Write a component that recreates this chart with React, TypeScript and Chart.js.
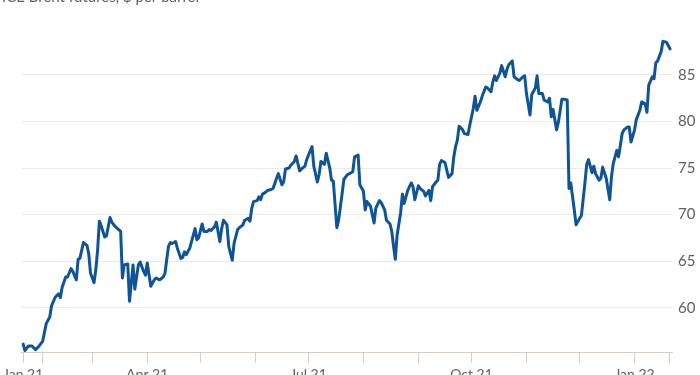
import React, { useEffect, useRef } from "react";
import { Chart, registerables } from "chart.js";

Chart.register(...registerables);

// Days counted from 21 Jan 2021 (start of the one-year window)
const days: number[] = [
  0, 1, 3, 5, 7, 9, 11, 13, 15, 16, 18, 20, 21, 22, 24, 25, 27, 28, 30, 31, 32, 34, 36, 37, 38, 40, 41, 42, 43, 44,
  46, 47, 49, 50, 52, 55, 56, 57, 59, 60, 62, 63, 65, 66, 68, 69, 70, 72, 74, 75, 77, 79, 80, 82, 83, 84, 86, 87, 89, 90,
  91, 92, 94, 95, 97, 98, 99, 101, 102, 104, 105, 106, 108, 109, 111, 112, 113, 115, 116, 118, 119, 121, 122, 124, 125, 127, 128, 129, 130, 132,
  133, 134, 135, 136, 138, 140, 141, 143, 144, 146, 147, 148, 150, 151, 153, 154, 156, 157, 159, 160, 161, 163, 164, 166, 167, 168, 170, 171, 173, 174,
  175, 177, 178, 180, 181, 183, 185, 186, 187, 189, 190, 192, 193, 194, 196, 198, 199, 201, 202, 204, 205, 207, 208, 209, 210, 211, 213, 214, 215, 217,
  219, 220, 221, 223, 224, 226, 227, 229, 230, 231, 233, 234, 235, 236, 238, 239, 240, 242, 243, 244, 245, 246, 248, 249, 251, 252, 254, 255, 256, 258,
  259, 261, 262, 264, 265, 266, 267, 269, 270, 272, 273, 274, 276, 277, 279, 280, 282, 283, 284, 286, 287, 289, 290, 291, 293, 294, 296, 297, 298, 299,
  301, 302, 304, 305, 307, 308, 309, 311, 312, 314, 315, 317, 318, 319, 321, 322, 323, 325, 326, 327, 329, 331, 332, 333, 335, 336, 338, 339, 341, 342,
  343, 345, 346, 348, 349, 351, 352, 353, 355, 356, 357, 358, 360, 361, 363, 365,
];

// ICE Brent futures, $ per barrel
const prices: number[] = [
  56.1, 55.4, 55.9, 55.9, 55.5, 55.9, 56.4, 58.3, 59.0, 60.2, 61.1, 61.5, 61.1, 62.2, 63.3, 63.3, 64.2, 63.9, 63.0, 65.2, 65.3, 67.0, 66.7, 65.8, 63.7, 62.7, 64.1, 66.2, 69.3, 68.8,
  67.6, 67.7, 69.7, 69.2, 68.7, 68.2, 63.2, 64.6, 64.7, 60.7, 64.6, 62.0, 64.6, 64.9, 63.9, 63.5, 64.8, 62.3, 63.0, 63.2, 63.0, 63.3, 63.7, 66.6, 67.0, 66.9, 67.1, 66.4, 65.3, 65.4,
  66.0, 65.7, 66.4, 67.1, 68.5, 67.3, 67.5, 69.0, 68.2, 68.2, 68.4, 68.3, 68.7, 69.2, 67.1, 68.5, 69.4, 68.9, 66.6, 65.1, 66.9, 68.4, 68.6, 68.9, 69.4, 69.6, 69.3, 70.7, 71.4, 71.5,
  71.9, 71.6, 72.2, 72.3, 72.6, 72.7, 72.8, 73.9, 74.4, 73.2, 73.5, 74.9, 75.0, 75.3, 75.7, 76.3, 74.7, 74.9, 75.2, 75.9, 76.4, 77.3, 75.2, 73.5, 74.3, 75.7, 75.4, 76.6, 75.0, 73.7,
  73.6, 68.6, 69.4, 72.3, 73.8, 74.3, 74.5, 74.6, 76.2, 76.4, 73.2, 72.5, 70.5, 71.4, 70.9, 69.1, 70.7, 71.5, 71.3, 70.5, 69.4, 69.0, 68.2, 66.6, 65.2, 67.8, 70.2, 72.2, 71.2, 72.6,
  73.4, 73.0, 71.6, 73.1, 72.8, 72.5, 72.0, 72.6, 71.5, 73.0, 73.5, 73.7, 75.4, 75.8, 75.6, 74.8, 74.0, 74.4, 76.2, 77.3, 78.0, 79.5, 79.1, 78.7, 78.6, 79.6, 81.4, 82.7, 81.2, 82.1,
  82.7, 83.7, 83.6, 83.2, 84.2, 84.9, 84.4, 85.2, 86.0, 84.8, 85.6, 86.1, 86.5, 84.8, 84.5, 84.4, 84.8, 84.9, 83.0, 80.7, 82.9, 83.6, 84.9, 83.0, 83.0, 82.3, 82.1, 82.5, 80.5, 81.3,
  79.1, 79.9, 82.4, 82.4, 82.3, 72.8, 73.4, 70.5, 68.9, 69.6, 69.9, 73.4, 75.4, 75.9, 74.5, 75.2, 74.4, 73.7, 73.9, 75.1, 73.9, 71.6, 74.1, 75.5, 76.9, 76.2, 78.7, 79.1, 79.4, 79.4,
  77.8, 79.1, 80.2, 81.2, 82.1, 81.9, 81.0, 83.9, 84.8, 84.6, 86.3, 86.5, 87.5, 88.6, 88.5, 87.8,
];

// x-axis ticks: window start, first of each month, window end
const tickDays: number[] = [0, 11, 39, 70, 100, 131, 161, 192, 223, 253, 284, 314, 345, 365];
const tickLabels: string[] = ["Jan 21", "", "", "Apr 21", "", "", "Jul 21", "", "", "Oct 21", "", "", "Jan 22", ""];

const titleText = "ICE Brent futures, $ per barrel";

const GREY = "#66605c";

export default function App() {
  const ref = useRef<HTMLCanvasElement | null>(null);

  useEffect(() => {
    if (!ref.current) return;
    const titlePlugin = {
      id: "topTitle",
      afterDraw(chart: any) {
        const ctx = chart.ctx;
        ctx.save();
        ctx.fillStyle = GREY;
        ctx.font = "15px Lato";
        ctx.textBaseline = "alphabetic";
        ctx.textAlign = "left";
        ctx.fillText(titleText, 2, 2);
        ctx.restore();
      },
    };
    const chart = new Chart(ref.current, {
      type: "line",
      data: {
        datasets: [
          {
            data: days.map((d, i) => ({ x: d, y: prices[i] })),
            borderColor: "#0f5499",
            borderWidth: 3,
            pointRadius: 0,
            tension: 0,
            borderJoinStyle: "round",
            borderCapStyle: "round",
            fill: false,
          },
        ],
      },
      options: {
        animation: false,
        responsive: false,
        maintainAspectRatio: false,
        layout: { padding: { left: 20, top: 33, right: 0, bottom: 0 } },
        plugins: { legend: { display: false }, tooltip: { enabled: false }, title: { display: false } },
        scales: {
          x: {
            type: "linear",
            min: -1.13,
            max: 366.13,
            afterFit: (s: any) => {
              s.height = 23;
            },
            afterBuildTicks: (s: any) => {
              s.ticks = tickDays.map((v) => ({ value: v }));
            },
            grid: {
              drawOnChartArea: false,
              drawTicks: true,
              tickLength: 11,
              color: "#d4cdc6",
            },
            border: { display: true, color: "#d4cdc6", width: 1 },
            ticks: {
              autoSkip: false,
              maxRotation: 0,
              padding: 3,
              color: GREY,
              font: { family: "Lato", size: 14 },
              callback: (v: any) => {
                const i = tickDays.indexOf(Number(v));
                return i >= 0 ? tickLabels[i] : "";
              },
            },
          },
          y: {
            type: "linear",
            position: "right",
            min: 55.25,
            max: 89.5,
            afterFit: (s: any) => {
              s.width = 28;
            },
            grid: { color: "#efe9e3", drawTicks: false },
            border: { display: false },
            ticks: {
              stepSize: 5,
              includeBounds: false,
              padding: 6,
              color: GREY,
              font: { family: "Lato", size: 15 },
            },
          },
        },
      },
      plugins: [titlePlugin],
    } as any);
    return () => chart.destroy();
  }, []);

  return (
    <div style={{ position: "fixed", left: 0, top: 0, width: 700, height: 375, background: "#fff" }}>
      <canvas ref={ref} width={700} height={375} style={{ display: "block", width: 700, height: 375 }} />
    </div>
  );
}
